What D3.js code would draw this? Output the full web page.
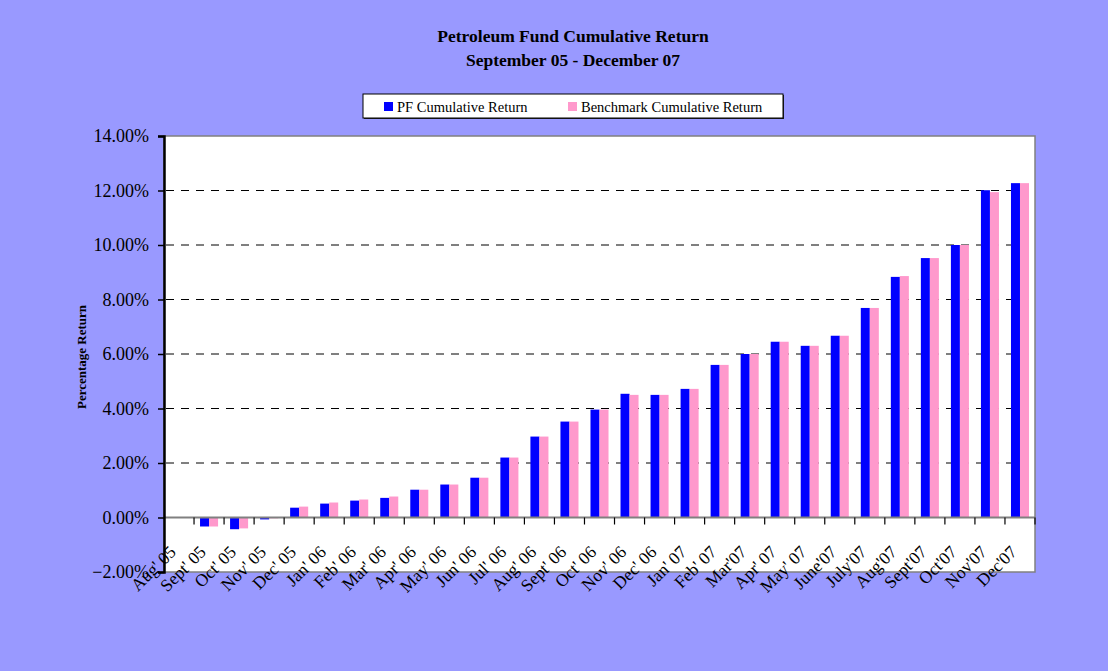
<!DOCTYPE html>
<html>
<head>
<meta charset="utf-8">
<script src="https://cdn.jsdelivr.net/npm/d3@7"></script>
<style>
  html, body { margin: 0; padding: 0; background: #9999FF; }
  svg { display: block; }
</style>
</head>
<body>
<svg id="chart" width="1108" height="671"></svg>
<script>
const categories = ["Aug' 05","Sept' 05","Oct' 05","Nov' 05","Dec' 05",
  "Jan' 06","Feb' 06","Mar' 06","Apr' 06","May' 06","Jun' 06","Jul' 06","Aug' 06","Sept' 06","Oct' 06","Nov' 06","Dec' 06",
  "Jan' 07","Feb' 07","Mar'07","Apr' 07","May' 07","June'07","July'07","Aug'07","Sept'07","Oct'07","Nov'07","Dec'07"];
const pfReturn = [null,-0.33,-0.43,-0.07,0.36,
  0.51,0.62,0.72,1.02,1.21,1.46,2.20,2.97,3.52,3.96,4.54,4.50,
  4.72,5.60,6.00,6.45,6.30,6.67,7.69,8.83,9.52,10.00,12.01,12.27];
const benchReturn = [null,-0.33,-0.40,-0.03,0.40,
  0.55,0.66,0.77,1.02,1.21,1.46,2.20,2.97,3.52,3.96,4.50,4.50,
  4.72,5.60,6.00,6.45,6.30,6.67,7.69,8.86,9.52,10.00,11.94,12.27];
const seriesNames = ["PF Cumulative Return","Benchmark Cumulative Return"];
const seriesColors = ["#0000FF","#FF99CC"];
const yTicks = [-2,0,2,4,6,8,10,12,14];
const titleLines = ["Petroleum Fund Cumulative Return","September 05 - December 07"];
const yAxisTitle = "Percentage Return";

const svg = d3.select("#chart");
const W = 1108, H = 671;
const plot = {left:164, right:1035, top:136, bottom:572};
const serif = "'Liberation Serif', 'Times New Roman', serif";

svg.append("rect").attr("width",W).attr("height",H).attr("fill","#9999FF");

const x = d3.scaleBand().domain(categories).range([plot.left, plot.right]).padding(0);
const xs = d3.scaleBand().domain([0,1]).range([6, x.bandwidth()-6]).padding(0);
const y = d3.scaleLinear().domain([-2,14]).range([plot.bottom, plot.top]);

// plot area
svg.append("rect").attr("x",plot.left).attr("y",plot.top)
  .attr("width",plot.right-plot.left).attr("height",plot.bottom-plot.top)
  .attr("fill","#FFFFFF").attr("stroke","#808080").attr("stroke-width",1.5);

// gridlines
svg.append("g").selectAll("line").data(yTicks.filter(t => t > 0 && t < 14)).join("line")
  .attr("x1",plot.left+2).attr("x2",plot.right)
  .attr("y1",d=>y(d)).attr("y2",d=>y(d))
  .attr("stroke","#000").attr("stroke-width",1).attr("stroke-dasharray","8,7");

// bars
const data = categories.map((c,i)=>({c, vals:[pfReturn[i], benchReturn[i]]}));
const groups = svg.append("g").selectAll("g").data(data).join("g")
  .attr("transform", d => `translate(${x(d.c)},0)`);
groups.selectAll("rect").data(d => d.vals.map((v,k)=>({v,k})).filter(e => e.v !== null)).join("rect")
  .attr("x", e => xs(e.k)).attr("width", xs.bandwidth())
  .attr("y", e => Math.min(y(e.v), y(0)))
  .attr("height", e => Math.abs(y(e.v) - y(0)))
  .attr("fill", e => seriesColors[e.k]);

// zero axis line
svg.append("line").attr("x1",plot.left).attr("x2",plot.right)
  .attr("y1",y(0)).attr("y2",y(0)).attr("stroke","#808080").attr("stroke-width",2);
// category ticks
svg.append("g").selectAll("line").data(categories).join("line")
  .attr("x1", d => x(d)+x.bandwidth()).attr("x2", d => x(d)+x.bandwidth())
  .attr("y1", y(0)).attr("y2", y(0)+7)
  .attr("stroke","#000").attr("stroke-width",1.2);

// y axis
const yAxis = d3.axisLeft(y).tickValues(yTicks).tickSize(6).tickPadding(9)
  .tickFormat(d => d3.format(".2f")(d) + "%");
const yg = svg.append("g").attr("transform",`translate(${plot.left},0)`).call(yAxis);
yg.select(".domain").attr("stroke","#000").attr("stroke-width",2.5);
yg.selectAll(".tick line").attr("stroke","#000").attr("stroke-width",1.5);
yg.selectAll(".tick text").attr("font-family",serif).attr("font-size","18px").attr("fill","#000");

// x labels (rotated)
svg.append("g").selectAll("text").data(categories).join("text")
  .attr("transform", d => `translate(${x(d)+x.bandwidth()/2-2},${553}) rotate(-45)`)
  .attr("text-anchor","end")
  .attr("font-family",serif).attr("font-size","17.5px").attr("fill","#000")
  .text(d => d);

// y axis title
svg.append("text").attr("transform",`translate(86,357) rotate(-90)`)
  .attr("text-anchor","middle").attr("font-family",serif).attr("font-weight","bold")
  .attr("font-size","13px").attr("fill","#000").text(yAxisTitle);

// title
svg.append("g").selectAll("text").data(titleLines).join("text")
  .attr("x",573).attr("y",(d,i)=>42+i*24).attr("text-anchor","middle")
  .attr("font-family",serif).attr("font-weight","bold").attr("font-size","17.5px")
  .attr("fill","#000").text(d=>d);

// legend
const lg = svg.append("g");
lg.append("rect").attr("x",364).attr("y",95).attr("width",420).attr("height",24).attr("fill","#222");
lg.append("rect").attr("x",363).attr("y",94).attr("width",420).attr("height",24)
  .attr("fill","#FFF").attr("stroke","#000").attr("stroke-width",1);
const legendX = [384, 568];
seriesNames.forEach((n,k)=>{
  lg.append("rect").attr("x",legendX[k]).attr("y",102).attr("width",9).attr("height",9).attr("fill",seriesColors[k]);
  lg.append("text").attr("x",legendX[k]+13).attr("y",111.5).attr("font-family",serif)
    .attr("font-size","14.5px").attr("fill","#000").text(n);
});
</script>
</body>
</html>
